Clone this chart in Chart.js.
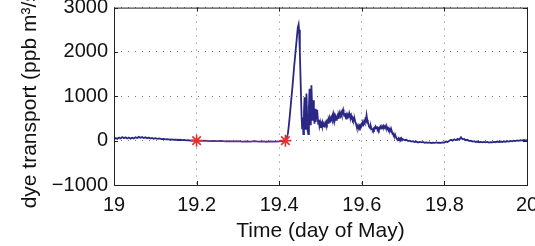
<!DOCTYPE html>
<html>
<head>
<meta charset="utf-8">
<script src="https://cdn.jsdelivr.net/npm/chart.js@4/dist/chart.umd.min.js"></script>
<style>
  html, body { margin: 0; padding: 0; background: #fff; }
  #wrap { width: 535px; height: 246px; }
</style>
</head>
<body>
<div id="wrap"><canvas id="dyeChart" width="535" height="246"></canvas></div>
<script>
// --- data (dye transport, ppb m^3/s) ---
// quiet part before the release
const preTimes = [
  19.000, 19.004, 19.008, 19.012, 19.016, 19.020, 19.024, 19.028, 19.032, 19.036,
  19.040, 19.044, 19.048, 19.052, 19.056, 19.060, 19.064, 19.068, 19.072, 19.076,
  19.080, 19.084, 19.088, 19.092, 19.096, 19.100, 19.105, 19.110, 19.115, 19.120,
  19.125, 19.130, 19.135, 19.140, 19.145, 19.150, 19.155, 19.160, 19.165, 19.170,
  19.175, 19.180, 19.185, 19.190, 19.195, 19.200, 19.210, 19.220, 19.230, 19.240,
  19.250, 19.260, 19.270, 19.280, 19.290, 19.300, 19.310, 19.320, 19.330, 19.340,
  19.350, 19.360, 19.370, 19.380, 19.390, 19.400, 19.410
];
const preValues = [
  30, 60, 40, 70, 50, 80, 55, 75, 50, 70,
  45, 65, 50, 75, 60, 85, 65, 80, 60, 75,
  55, 70, 50, 60, 40, 55, 40, 50, 35, 40,
  30, 35, 25, 30, 20, 25, 15, 20, 10, 15,
  5, 10, 0, 5, 0, 0, -5, 0, -10, -5,
  -10, -5, -15, -10, -15, -10, -20, -15, -20, -10,
  -20, -15, -25, -15, -20, -15, -10
];

// pulse and its noisy tail
const eventTimes = [
  19.415, 19.418, 19.421, 19.424, 19.428, 19.432, 19.436, 19.440, 19.443, 19.445,
  19.447, 19.448, 19.450, 19.452, 19.454, 19.4555, 19.457, 19.4585, 19.460, 19.4615,
  19.463, 19.4645, 19.466, 19.4675, 19.469, 19.4705, 19.472, 19.4735, 19.475, 19.4765,
  19.478, 19.4795, 19.481, 19.4825, 19.484, 19.4855, 19.487, 19.4885, 19.490, 19.4915,
  19.493, 19.4945, 19.496, 19.4975, 19.499, 19.5005, 19.502, 19.5035, 19.505, 19.5065,
  19.508, 19.5095, 19.511, 19.5125, 19.514, 19.5155, 19.517, 19.5185, 19.520, 19.5215,
  19.523, 19.5245, 19.526, 19.5275, 19.529, 19.5305, 19.532, 19.5335, 19.535, 19.5365,
  19.538, 19.5395, 19.541, 19.5425, 19.544, 19.5455, 19.547, 19.5485, 19.550, 19.5515,
  19.553, 19.5545, 19.556, 19.5575, 19.559, 19.5605, 19.562, 19.5635, 19.565, 19.5665,
  19.568, 19.5695, 19.571, 19.5725, 19.574, 19.5755, 19.577, 19.5785, 19.580, 19.5815,
  19.583, 19.5845, 19.586, 19.5875, 19.589, 19.5905, 19.592, 19.5935, 19.595, 19.5965,
  19.598, 19.5995, 19.601, 19.6025, 19.604, 19.6055, 19.607, 19.6085, 19.610, 19.6115,
  19.613, 19.6145, 19.616, 19.6175, 19.619, 19.6205, 19.622, 19.6235, 19.625, 19.6265,
  19.628, 19.6295, 19.631, 19.6325, 19.634, 19.6355, 19.637, 19.6385, 19.640, 19.6415,
  19.643, 19.6445, 19.646, 19.6475, 19.649, 19.6505, 19.652, 19.6535, 19.655, 19.6565,
  19.658, 19.6595, 19.661, 19.6625, 19.664, 19.6655, 19.667, 19.6685, 19.670, 19.6715,
  19.673, 19.6745, 19.676, 19.6775, 19.679, 19.6805, 19.682, 19.6835, 19.685, 19.6865,
  19.688, 19.6895, 19.691, 19.6925, 19.694, 19.6955, 19.697, 19.6985, 19.700
];
const eventValues = [
  0, 60, 150, 400, 800, 1200, 1650, 2050, 2350, 2550,
  2620, 2500, 2000, 1300, 600, 280, 520, 150, 650, 980,
  450, 250, 1060, 600, 220, 150, 750, 1170, 700, 350,
  1250, 800, 450, 910, 600, 380, 720, 420, 690, 480,
  560, 380, 470, 330, 400, 290, 380, 330, 400, 320,
  370, 340, 390, 350, 420, 380, 440, 400, 470, 430,
  500, 460, 520, 480, 560, 610, 500, 560, 480, 540,
  470, 520, 560, 510, 580, 540, 600, 560, 630, 580,
  660, 700, 600, 560, 620, 540, 500, 560, 520, 580,
  560, 620, 560, 530, 570, 500, 520, 470, 500, 450,
  470, 410, 380, 320, 290, 310, 280, 340, 310, 350,
  330, 370, 340, 400, 370, 430, 400, 480, 450, 570,
  470, 420, 380, 340, 310, 290, 320, 270, 250, 240,
  270, 250, 290, 270, 310, 290, 300, 260, 280, 250,
  290, 270, 310, 290, 330, 300, 280, 320, 300, 330,
  290, 270, 300, 260, 280, 240, 260, 220, 230, 190,
  200, 150, 160, 120, 130, 90, 100, 60, 40, 20,
  10, 40, 20, 50, 30, 60, 40, 20, 30
];

// settled part to the end of the day
const tailTimes = [
  19.704, 19.708, 19.712, 19.716, 19.720, 19.724, 19.728, 19.732, 19.736, 19.740,
  19.744, 19.748, 19.752, 19.756, 19.760, 19.764, 19.768, 19.772, 19.776, 19.780,
  19.784, 19.788, 19.792, 19.796, 19.800, 19.804, 19.808, 19.812, 19.816, 19.820,
  19.824, 19.828, 19.832, 19.836, 19.840, 19.844, 19.848, 19.852, 19.856, 19.860,
  19.864, 19.868, 19.872, 19.876, 19.880, 19.884, 19.888, 19.892, 19.896, 19.900,
  19.904, 19.908, 19.912, 19.916, 19.920, 19.924, 19.928, 19.932, 19.936, 19.940,
  19.944, 19.948, 19.952, 19.956, 19.960, 19.964, 19.968, 19.972, 19.976, 19.980,
  19.984, 19.988, 19.992, 19.996, 20.000
];
const tailValues = [
  10, 20, -10, 0, -20, -10, -30, -20, -40, -30,
  -40, -30, -50, -40, -50, -40, -55, -45, -50, -40,
  -50, -45, -50, -40, -45, -20, -30, 0, 20, 0,
  30, 10, 40, 20, 75, 30, 40, 10, 20, -10,
  0, -20, -10, -30, -20, -35, -30, -40, -30, -40,
  -30, -45, -35, -40, -30, -35, -20, -30, -20, -30,
  -15, -25, -10, -20, -5, -15, 0, -10, 5, -5,
  10, 0, 15, 5, 10
];

// red asterisks on the zero line
const starTimes = [19.2, 19.415];
const starValues = [0, 0];

const xTicks = [19, 19.2, 19.4, 19.6, 19.8, 20];
const yTicks = [-1000, 0, 1000, 2000, 3000];

const LINE_COLOR = '#2b2784';
const MID_COLOR = '#5a3584';
const STAR_COLOR = '#e3302b';
const FAMILY = '"Liberation Sans", Arial, sans-serif';
const TICK_FONT = { family: FAMILY, size: 20 };
const TITLE_FONT = { family: FAMILY, size: 21 };

// closed box + inward ticks, matlab style
const boxPlugin = {
  id: 'box',
  afterDraw(chart) {
    const { ctx, chartArea: a, scales } = chart;
    ctx.save();
    ctx.strokeStyle = '#222';
    ctx.lineWidth = 1;
    ctx.strokeRect(a.left + 0.5, a.top + 0.5, a.right - a.left, a.bottom - a.top);
    ctx.beginPath();
    xTicks.forEach(v => {
      const x = Math.round(scales.x.getPixelForValue(v)) + 0.5;
      ctx.moveTo(x, a.bottom); ctx.lineTo(x, a.bottom - 4);
      ctx.moveTo(x, a.top); ctx.lineTo(x, a.top + 4);
    });
    yTicks.forEach(v => {
      const y = Math.round(scales.y.getPixelForValue(v)) + 0.5;
      ctx.moveTo(a.left, y); ctx.lineTo(a.left + 4, y);
      ctx.moveTo(a.right, y); ctx.lineTo(a.right - 4, y);
    });
    ctx.stroke();
    ctx.restore();
  }
};

const times = preTimes.concat(eventTimes, tailTimes);
const values = preValues.concat(eventValues, tailValues);
const points = times.map((t, i) => ({ x: t, y: values[i] }));
const stars = starTimes.map((t, i) => ({ x: t, y: starValues[i] }));

new Chart(document.getElementById('dyeChart'), {
  type: 'line',
  data: {
    datasets: [
      {
        data: stars,
        showLine: false,
        pointStyle: 'star',
        pointRadius: 6,
        borderColor: STAR_COLOR,
        backgroundColor: STAR_COLOR,
        pointBorderWidth: 1.6,
        order: 0
      },
      {
        data: points,
        borderColor: LINE_COLOR,
        borderWidth: 1.8,
        pointRadius: 0,
        tension: 0,
        segment: {
          borderColor: c => (c.p0.parsed.x >= 19.2 && c.p1.parsed.x <= 19.421) ? MID_COLOR : LINE_COLOR
        },
        order: 1
      }
    ]
  },
  options: {
    responsive: false,
    animation: false,
    layout: { padding: { top: 7, right: 8, left: 0, bottom: 0 } },
    plugins: { legend: { display: false }, tooltip: { enabled: false } },
    scales: {
      x: {
        type: 'linear',
        min: 19, max: 20,
        afterBuildTicks: s => { s.ticks = xTicks.map(v => ({ value: v })); },
        afterFit: s => { s.height = 61; s.paddingLeft = 0; s.paddingRight = 0; },
        ticks: {
          font: TICK_FONT, color: '#111', padding: 8, maxRotation: 0,
          callback: v => String(v)
        },
        grid: { color: '#777', drawTicks: false },
        border: { display: false, dash: [1, 6] },
        title: {
          display: true, text: 'Time (day of May)', font: TITLE_FONT, color: '#111',
          padding: { top: 0, bottom: 2 }
        }
      },
      y: {
        min: -1000, max: 3000,
        afterBuildTicks: s => { s.ticks = yTicks.map(v => ({ value: v })); },
        afterFit: s => { s.width = 114; s.paddingTop = 0; s.paddingBottom = 0; },
        ticks: {
          font: TICK_FONT, color: '#111', padding: 6,
          callback: v => (v < 0 ? '\u2212' + Math.abs(v) : String(v))
        },
        grid: { color: '#777', drawTicks: false },
        border: { display: false, dash: [1, 6] },
        title: {
          display: true, text: 'dye transport (ppb m\u00b3/s)', font: TITLE_FONT, color: '#111',
          padding: { top: 18, bottom: 0 }
        }
      }
    }
  },
  plugins: [boxPlugin]
});
</script>
</body>
</html>
